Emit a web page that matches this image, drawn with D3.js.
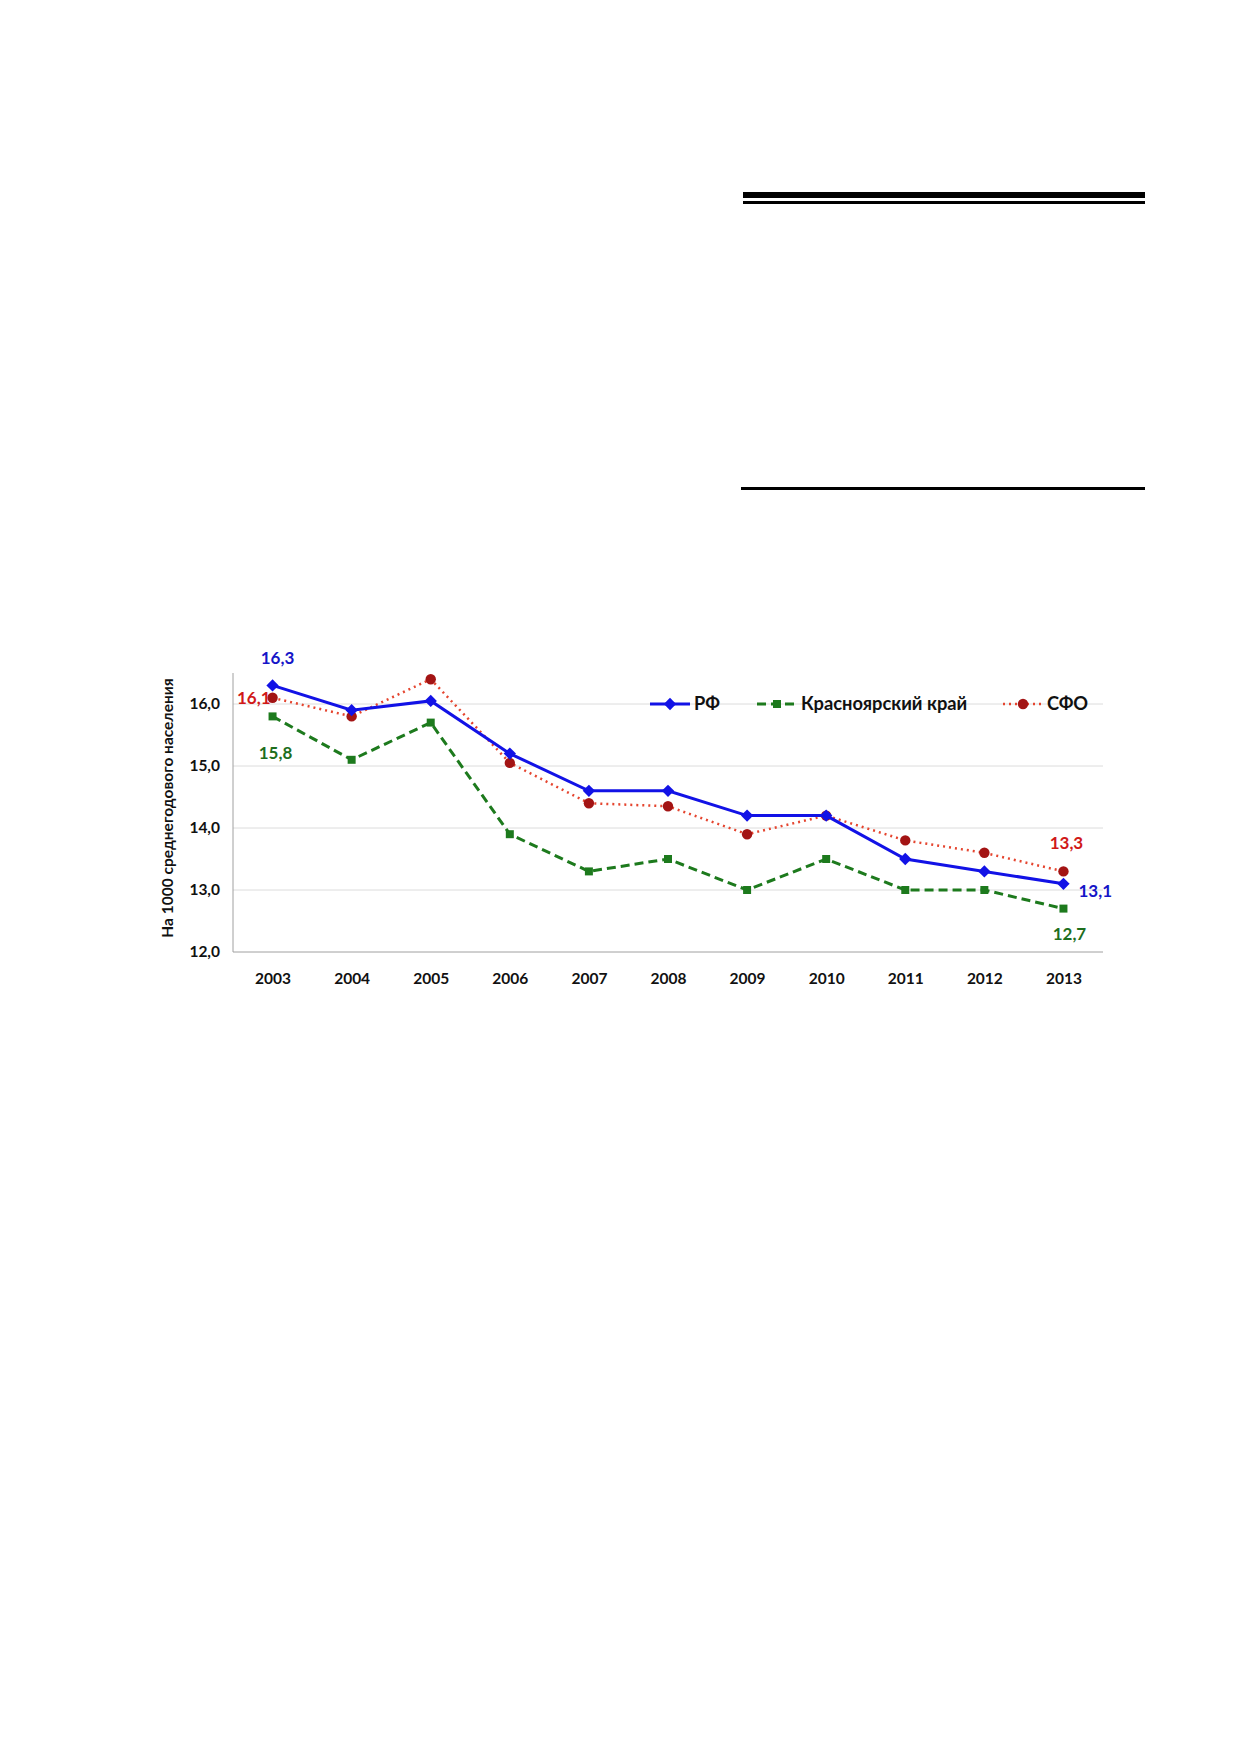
<!DOCTYPE html>
<html>
<head>
<meta charset="utf-8">
<script src="https://cdn.jsdelivr.net/npm/d3@7"></script>
<style>
  body { margin: 0; background: #fff; }
  svg text { font-family: Lato, "Open Sans", sans-serif; font-weight: bold; }
</style>
</head>
<body>
<svg id="page" width="1239" height="1752"></svg>
<script>
// chart data
var years = ["2003", "2004", "2005", "2006", "2007", "2008", "2009", "2010", "2011", "2012", "2013"];
var rf = [16.3, 15.9, 16.05, 15.2, 14.6, 14.6, 14.2, 14.2, 13.5, 13.3, 13.1];
var krai = [15.8, 15.1, 15.7, 13.9, 13.3, 13.5, 13.0, 13.5, 13.0, 13.0, 12.7];
var sfo = [16.1, 15.8, 16.4, 15.05, 14.4, 14.35, 13.9, 14.2, 13.8, 13.6, 13.3];
var yTicks = [12, 13, 14, 15, 16];
var seriesNames = ["РФ", "Красноярский край", "СФО"];

var svg = d3.select("#page");

// header rules of the empty table above the chart
svg.append("rect").attr("x", 743).attr("y", 192).attr("width", 402).attr("height", 6).attr("fill", "#000");
svg.append("rect").attr("x", 743).attr("y", 201).attr("width", 402).attr("height", 3).attr("fill", "#000");
svg.append("rect").attr("x", 741).attr("y", 487).attr("width", 404).attr("height", 3).attr("fill", "#000");

var plotLeft = 233, plotRight = 1103, plotTop = 673, plotBottom = 952;

var x = d3.scalePoint().domain(years).range([plotLeft, plotRight]).padding(0.5);
var y = d3.scaleLinear().domain([12, 16.5]).range([plotBottom, plotTop]);

var fmt = function(v) { return d3.format(".1f")(v).replace(".", ","); };

// gridlines
svg.append("g").selectAll("line")
  .data(yTicks.slice(1))
  .enter().append("line")
  .attr("x1", plotLeft).attr("x2", plotRight)
  .attr("y1", function(d) { return y(d); })
  .attr("y2", function(d) { return y(d); })
  .attr("stroke", "#dcdcdc").attr("stroke-width", 1);

// axes
var yAxis = svg.append("g")
  .attr("transform", "translate(" + plotLeft + ",0)")
  .call(d3.axisLeft(y).tickValues(yTicks).tickSize(0).tickPadding(13).tickFormat(fmt));
yAxis.select(".domain").attr("stroke", "#a0a0a0").attr("d", "M0," + plotTop + "V" + plotBottom);
yAxis.selectAll("text").attr("font-size", 15.5).attr("fill", "#111");

var xAxis = svg.append("g")
  .attr("transform", "translate(0," + plotBottom + ")")
  .call(d3.axisBottom(x).tickSize(0).tickPadding(21));
xAxis.select(".domain").attr("stroke", "#a0a0a0").attr("d", "M" + plotLeft + ",0H" + plotRight);
xAxis.selectAll("text").attr("font-size", 15.5).attr("fill", "#111");

svg.append("text")
  .attr("transform", "translate(173,808) rotate(-90)")
  .attr("text-anchor", "middle")
  .attr("font-size", 15.5)
  .attr("fill", "#111")
  .text("На 1000 среднегодового населения");

var line = d3.line()
  .x(function(d, i) { return x(years[i]); })
  .y(function(d) { return y(d); });

var series = [
  { name: seriesNames[0], values: rf, stroke: "#1212e6", width: 3, dash: null, marker: "diamond", fill: "#1212e6" },
  { name: seriesNames[1], values: krai, stroke: "#1d7a1d", width: 3, dash: "9,5", marker: "square", fill: "#1d7a1d" },
  { name: seriesNames[2], values: sfo, stroke: "#e5452f", width: 2.5, dash: "2,4", marker: "circle", fill: "#a31414" }
];

var symbolFor = function(m) {
  if (m === "diamond") return d3.symbol().type(d3.symbolSquare).size(76)();
  if (m === "square") return d3.symbol().type(d3.symbolSquare).size(64)();
  return d3.symbol().type(d3.symbolCircle).size(85)();
};
var rotFor = function(m) { return m === "diamond" ? " rotate(45)" : ""; };

// draw red first, then green, blue on top
[series[2], series[1], series[0]].forEach(function(s) {
  svg.append("path")
    .datum(s.values)
    .attr("d", line)
    .attr("fill", "none")
    .attr("stroke", s.stroke)
    .attr("stroke-width", s.width)
    .attr("stroke-dasharray", s.dash);

  svg.append("g").selectAll("path")
    .data(s.values)
    .enter().append("path")
    .attr("d", symbolFor(s.marker))
    .attr("transform", function(d, i) { return "translate(" + x(years[i]) + "," + y(d) + ")" + rotFor(s.marker); })
    .attr("fill", s.fill);
});

// value labels on first and last points
var labels = [
  { v: rf[0], i: 0, dx: 5, dy: -21, anchor: "middle", color: "#1515c8" },
  { v: sfo[0], i: 0, dx: -2, dy: 6, anchor: "end", color: "#d01818" },
  { v: krai[0], i: 0, dx: 3, dy: 43, anchor: "middle", color: "#1d6e1d" },
  { v: sfo[10], i: 10, dx: 3, dy: -22, anchor: "middle", color: "#d01818" },
  { v: rf[10], i: 10, dx: 15, dy: 13, anchor: "start", color: "#1515c8" },
  { v: krai[10], i: 10, dx: 6, dy: 31, anchor: "middle", color: "#1d6e1d" }
];
svg.append("g").selectAll("text")
  .data(labels)
  .enter().append("text")
  .attr("x", function(d) { return x(years[d.i]) + d.dx; })
  .attr("y", function(d) { return y(d.v) + d.dy; })
  .attr("text-anchor", function(d) { return d.anchor; })
  .attr("font-size", 17)
  .attr("fill", function(d) { return d.color; })
  .text(function(d) { return fmt(d.v); });

// legend
var legendX = [650, 757, 1003];
var legend = svg.append("g").selectAll("g")
  .data(series)
  .enter().append("g")
  .attr("transform", function(d, i) { return "translate(" + legendX[i] + "," + y(16) + ")"; });
legend.append("line")
  .attr("x1", 0).attr("x2", 40).attr("y1", 0).attr("y2", 0)
  .attr("stroke", function(d) { return d.stroke; })
  .attr("stroke-width", function(d) { return d.width; })
  .attr("stroke-dasharray", function(d) { return d.dash; });
legend.append("path")
  .attr("d", function(d) { return symbolFor(d.marker); })
  .attr("transform", function(d) { return "translate(20,0)" + rotFor(d.marker); })
  .attr("fill", function(d) { return d.fill; });
legend.append("text")
  .attr("x", 44).attr("y", 6)
  .attr("font-size", 18.3)
  .attr("fill", "#111")
  .text(function(d) { return d.name; });
</script>
</body>
</html>
